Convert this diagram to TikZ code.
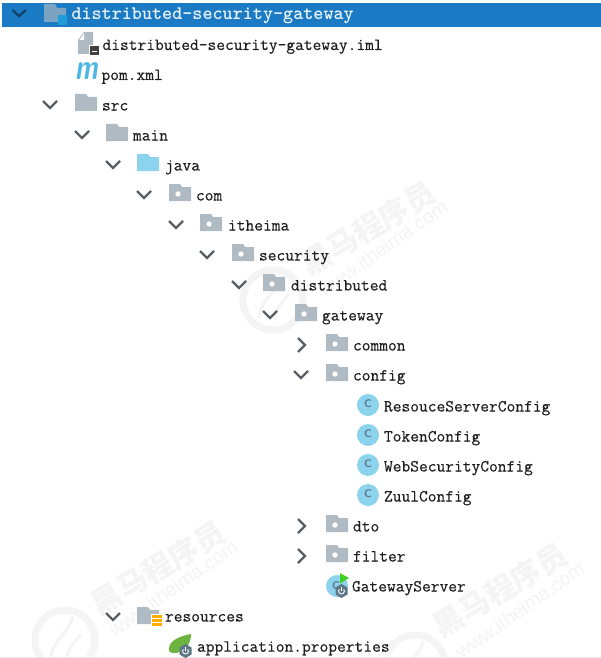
\documentclass[tikz,border=0pt]{standalone}
\usepackage{fontspec}
\newfontfamily\cjkwm{Noto Sans CJK SC}
\newfontfamily\sanswm{Liberation Sans}
\newfontfamily\treefont{Latin Modern Mono}[FakeBold=0.35]
\definecolor{barblue}{HTML}{1A7BC4}
\definecolor{foldergray}{HTML}{AFBAC2}
\definecolor{javablue}{HTML}{8CD3EE}
\definecolor{chevron}{HTML}{5A5F63}
\definecolor{ink}{HTML}{1E1E1E}
\definecolor{wmark}{HTML}{F4F4F4}
\definecolor{springgreen}{HTML}{6DB33F}
\definecolor{badge}{HTML}{5F7688}
\definecolor{mvnblue}{HTML}{4DB8E4}
\tikzset{
  x=1pt,y=-1pt,
  label/.style={anchor=base west,inner sep=0pt,outer sep=0pt,text=ink,font=\treefont\fontsize{17}{18}\selectfont},
  rootlabel/.style={label,text=white!90!barblue,font=\ttfamily\bfseries\fontsize{19.2}{20}\selectfont},
  chev/.style={draw=chevron,line width=2.3pt,line cap=butt,line join=miter},
  cmark/.style={inner sep=0pt,text=badge,font=\sffamily\bfseries\fontsize{11}{11}\selectfont},
  wmcjk/.style={inner sep=0pt,text=wmark,rotate=31,font=\cjkwm\bfseries\fontsize{30}{30}\selectfont},
  wmweb/.style={inner sep=0pt,text=wmark,rotate=35,font=\sanswm\fontsize{19.5}{20}\selectfont},
}
\newcommand{\foldershape}[3]{\fill[#3] (#1,#2-11) -- (#1+11,#2-11) -- (#1+13,#2-8) -- (#1+22,#2-8) -- (#1+22,#2+6) -- (#1,#2+6) -- cycle;}
\newcommand{\pkgfolder}[2]{\foldershape{#1}{#2}{foldergray}\fill[white] (#1+9,#2-1) circle (2.7);}
\newcommand{\chevdown}[2]{\draw[chev] (#1-7,#2-4) -- (#1,#2+3) -- (#1+7,#2-4);}
\newcommand{\chevright}[2]{\draw[chev] (#1-3,#2-7) -- (#1+4,#2) -- (#1-3,#2+7);}
\newcommand{\classicon}[2]{\fill[javablue] (#1,#2) circle (11);\node[cmark] at (#1,#2-1) {C};}
\newcommand{\bootbadge}[2]{\fill[badge] (#1,#2-7) -- (#1+6,#2-3.5) -- (#1+6,#2+3.5) -- (#1,#2+7) -- (#1-6,#2+3.5) -- (#1-6,#2-3.5) -- cycle;
  \draw[white,line width=.9pt] (#1+2.2,#2-1.8) arc (-40:220:2.9);\draw[white,line width=.9pt] (#1,#2-3.6) -- (#1,#2);}
\newcommand{\wmlogo}[2]{\draw[wmark,line width=7pt] (#1,#2) circle (30);
  \draw[wmark,line width=3pt] (#1-14,#2+18) .. controls (#1-12,#2-2) and (#1+4,#2-6) .. (#1+8,#2-24);
  \draw[wmark,line width=3pt] (#1+2,#2+20) .. controls (#1+2,#2+8) and (#1+10,#2+2) .. (#1+16,#2-6);}
\begin{document}
\begin{tikzpicture}
\useasboundingbox (0,0) rectangle (601,658);
\fill[white] (0,0) rectangle (601,658);
% watermarks
\wmlogo{273}{300}
\wmlogo{65}{640}
\wmlogo{415}{665}
\node[wmcjk] (wm1) at (368,228) {黑马程序员};
\node[wmweb] (wm1b) at (383,248) {www.itheima.com};
\node[wmcjk] (wm2) at (158,568) {黑马程序员};
\node[wmweb] (wm2b) at (173,588) {www.itheima.com};
\node[wmcjk] (wm3) at (500,590) {黑马程序员};
\node[wmweb] (wm3b) at (520,610) {www.itheima.com};
\draw[black!8,line width=.6pt] (0,657.5) -- (601,657.5);
% root bar
\fill[barblue] (2,3) rectangle (601,27);
\draw[chev,draw=barblue!55!black] (12.5,10) -- (19,16) -- (26,10);
\fill[foldergray!65!barblue] (44,4) -- (55,4) -- (57,8) -- (66,8) -- (66,22) -- (44,22) -- cycle;
\fill[cyan!65!barblue] (58,15.5) rectangle (67,25);
\node[rootlabel] (root) at (71.5,20) {distributed-security-gateway};
% iml
\fill[foldergray] (78,40) -- (84,32) -- (93,32) -- (93,45) -- (89,45) -- (89,54) -- (78,54) -- cycle;
\fill[white] (84,33.5) -- (84,40) -- (79.5,40) -- cycle;
\fill[ink!85] (89.5,46) rectangle (99,55);
\fill[white] (92,51) rectangle (96.5,52.5);
\node[label] (iml) at (102.5,50) {distributed-security-gateway.iml};
% pom
\node[inner sep=0pt,text=mvnblue,xscale=.72,font=\sffamily\itshape\bfseries\fontsize{36}{36}\selectfont] (mvn) at (86.5,71) {m};
\node[label] (pom) at (101.5,80) {pom.xml};
% tree
\chevdown{50}{105}\foldershape{75}{105}{foldergray}
\node[label] (src) at (102,110.5) {src};
\chevdown{82}{135}\foldershape{106}{135}{foldergray}
\node[label] (main) at (133,140.5) {main};
\chevdown{113}{165}\foldershape{137}{165}{javablue}
\node[label] (java) at (165,170.5) {java};
\chevdown{144}{195}\pkgfolder{169}{195}
\node[label] (com) at (196,200.5) {com};
\chevdown{176}{225}\pkgfolder{200}{225}
\node[label] (itheima) at (228,230.5) {itheima};
\chevdown{207}{255}\pkgfolder{232}{255}
\node[label] (security) at (259,260.5) {security};
\chevdown{239}{285}\pkgfolder{263}{285}
\node[label] (distributed) at (291,290.5) {distributed};
\chevdown{270}{315}\pkgfolder{295}{315}
\node[label] (gateway) at (322,320.5) {gateway};
\chevright{301}{345}\pkgfolder{326}{345}
\node[label] (common) at (353,350.5) {common};
\chevdown{301}{375}\pkgfolder{326}{375}
\node[label] (config) at (353,380.5) {config};
\classicon{368}{405}
\node[label] (c1) at (384,411.5) {ResouceServerConfig};
\classicon{368}{435}
\node[label] (c2) at (384,441.5) {TokenConfig};
\classicon{368}{465}
\node[label] (c3) at (384,471.5) {WebSecurityConfig};
\classicon{368}{495}
\node[label] (c4) at (384,501.5) {ZuulConfig};
\chevright{301}{526}\pkgfolder{326}{526}
\node[label] (dto) at (353,531.5) {dto};
\chevright{301}{556}\pkgfolder{326}{556}
\node[label] (filter) at (353,561.5) {filter};
% GatewayServer
\fill[javablue] (337,586) circle (11);
\node[cmark] (gc) at (336,586) {C};
\fill[springgreen!60!green] (340,573) -- (349,578) -- (340,583.5) -- cycle;
\bootbadge{341.5}{591}
\node[label] (gs) at (352,591.5) {GatewayServer};
% resources
\chevdown{113}{617}\foldershape{137}{618}{foldergray}
\fill[white] (150.5,614) rectangle (162,627.5);
\foreach \yy in {616.5,620.5,624.5}{\fill[orange!65!yellow] (151.5,\yy-1.5) rectangle (162,\yy+1.2);}
\node[label] (res) at (165,621.5) {resources};
% application.properties
\fill[springgreen] (169,651) .. controls (168,642) and (176,637) .. (191,634) .. controls (191,645) and (184,654) .. (172,653) -- cycle;
\bootbadge{185.5}{651}
\node[label] (app) at (197,651.7) {application.properties};
\end{tikzpicture}
\end{document}
